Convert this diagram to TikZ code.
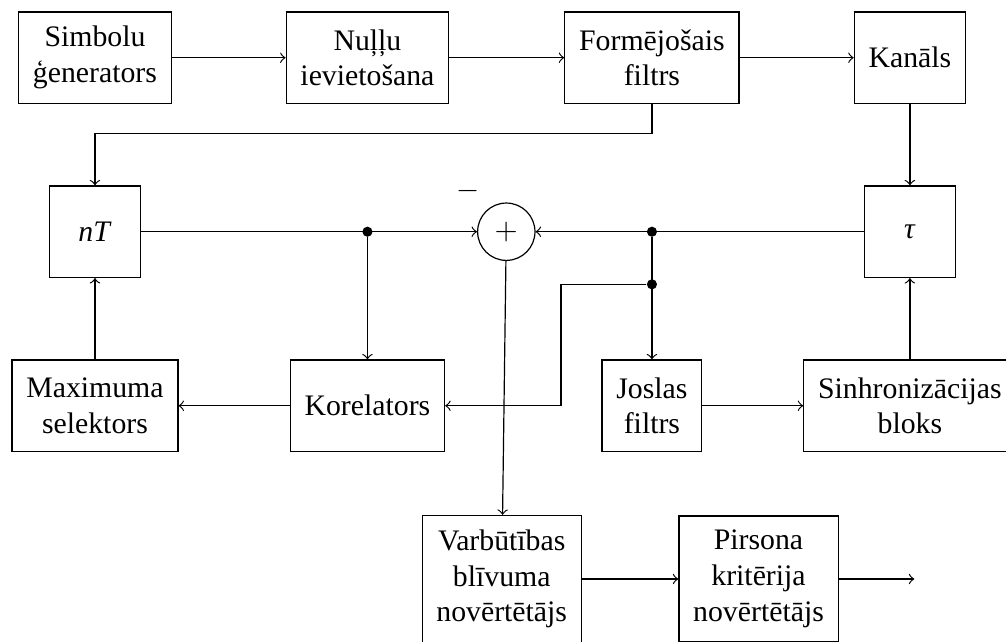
\documentclass[tikz,border=0pt]{standalone}
\usepackage{fontspec}
\setmainfont{Liberation Serif}
\usetikzlibrary{arrows}
\tikzstyle{block} = [
    rectangle,
    minimum width=1.07cm,
    minimum height=1.08cm,
    inner sep=4.8pt,
    align=center,
    draw=black
]
\tikzstyle{sumnode} = [
    circle,
    minimum size=0.677cm,
    inner sep=0pt,
    draw=black
]
\tikzstyle{dot} = [
    circle,
    fill=black,
    minimum size=3.4pt,
    inner sep=0pt
]
\tikzstyle{arrow} = [->,>=to]

\begin{document}
\begin{tikzpicture}[node distance=2.054cm]
\useasboundingbox (0,0) rectangle (11.874,-7.566);

% top row
\node (gen) [block] at (1.121,-0.681) {Simbolu\\ ģenerators};
\node (zero) [block, right of=gen, node distance=3.216cm] {Nuļļu\\ ievietošana};
\node (shape) [block, right of=zero, node distance=3.358cm] {Formējošais\\ filtrs};
\node (chan) [block, right of=shape, node distance=3.045cm] {Kanāls};

% second row
\node (nt) [block, below of=gen] {\textit{nT}};
\node (sum) [sumnode, right of=nt, node distance=4.855cm] {$+$};
\node (minus) at ([shift={(-0.449,0.484)}]sum) {$-$};
\node (tau) [block, below of=chan] {\textit{τ}};

% third row
\node (maxsel) [block, below of=nt] {Maximuma\\ selektors};
\node (corr) [block, right of=maxsel, node distance=3.216cm] {Korelators};
\node (bpf) [block, right of=corr, node distance=3.358cm] {Joslas\\ filtrs};
\node (sync) [block, right of=bpf, node distance=3.045cm] {Sinhronizācijas\\ bloks};

% bottom row
\node (pdf) [block] at (5.922,-6.834) {Varbūtības\\ blīvuma\\ novērtētājs};
\node (pirs) [block, right of=pdf, node distance=3.031cm] {Pirsona\\ kritērija\\ novērtētājs};

% junctions
\node (j1) [dot] at (corr |- nt) {};
\node (j2) [dot] at (bpf |- tau) {};
\node (j3) [dot] at ([yshift=-0.621cm]j2) {};
\coordinate (bend) at ([xshift=-1.074cm]j3);
\coordinate (fb) at ([yshift=-0.892cm]shape);
\coordinate (out) at ([xshift=1.839cm]pirs);

\draw [arrow] (gen) -- (zero);
\draw [arrow] (zero) -- (shape);
\draw [arrow] (shape) -- (chan);
\draw [arrow] (chan) -- (tau);
\draw [arrow] (shape) -- (fb) -| (nt);

\draw [arrow] (nt) -- (sum);
\draw [arrow] (tau) -- (sum);
\draw [arrow] (j1) -- (corr);
\draw [arrow] (j2) -- (bpf);
\draw [arrow] (j3) -- (bend) |- (corr);

\draw [arrow] (corr) -- (maxsel);
\draw [arrow] (maxsel) -- (nt);
\draw [arrow] (bpf) -- (sync);
\draw [arrow] (sync) -- (tau);

\draw [arrow] (sum) -- (pdf);
\draw [arrow] (pdf) -- (pirs);
\draw [arrow] (pirs) -- (out);

\end{tikzpicture}
\end{document}
